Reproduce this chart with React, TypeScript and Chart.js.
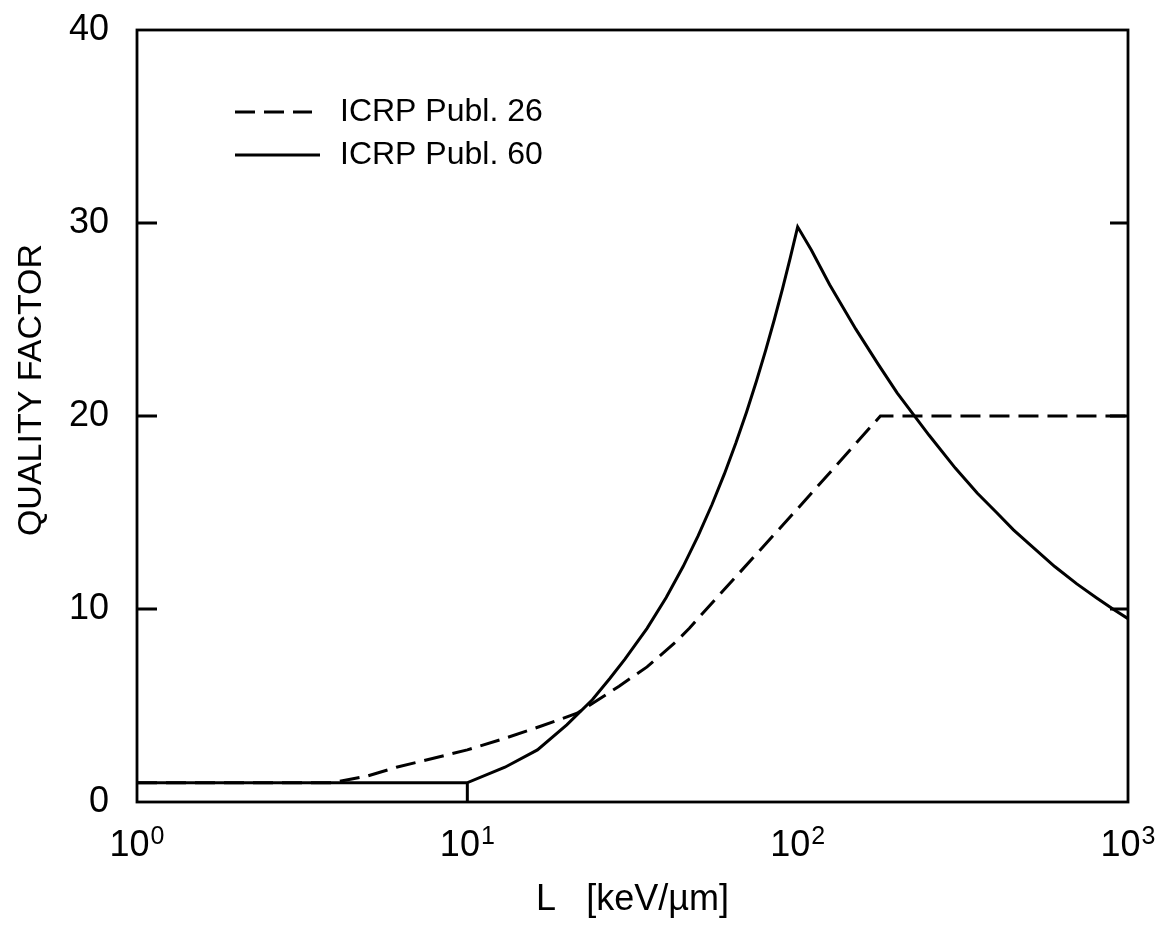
import React, { useEffect, useRef } from "react";
import { Chart, registerables } from "chart.js";

Chart.register(...registerables);

// ICRP Publ. 26 (dashed)
const icrp26L = [1, 3.9, 5, 6.1, 7, 10, 13, 16.5, 21.5, 28.8, 35, 42.8, 47, 53, 100, 178, 1000];
const icrp26Q = [1, 1, 1.35, 1.8, 2.05, 2.7, 3.3, 3.9, 4.6, 6.0, 7.0, 8.3, 9.0, 10, 15.2, 20, 20];

// ICRP Publ. 60 (solid)
const icrp60L = [
  1, 10, 10, 10, 13, 16.3, 20, 23.9, 27, 30, 35, 40, 45, 50, 55, 60, 65, 70, 75, 80, 85, 90, 95, 100,
  110, 125, 150, 175, 200, 250, 300, 350, 400, 450, 500, 600, 700, 800, 900, 1000,
];
const icrp60Q = [
  1, 1, 0, 1, 1.8, 2.7, 4.0, 5.3, 6.4, 7.4, 9.0, 10.6, 12.2, 13.8, 15.4, 17.0, 18.6, 20.2, 21.8, 23.4, 25.0, 26.6, 28.2, 29.8,
  28.6, 26.8, 24.5, 22.7, 21.2, 19.0, 17.3, 16.0, 15.0, 14.1, 13.4, 12.2, 11.3, 10.6, 10.0, 9.5,
];

const seriesNames = ["ICRP Publ. 26", "ICRP Publ. 60"];
const xTickValues = [1, 10, 100, 1000];
const xTickExponents = ["0", "1", "2", "3"];
const yTickValues = [0, 10, 20, 30, 40];
const xTitle = "L   [keV/\u00B5m]";
const yTitle = "QUALITY FACTOR";

const FONT = '"Liberation Sans", Arial, sans-serif';
const DASH = [20, 9];

const framePlugin = {
  id: "frame",
  afterDatasetsDraw(chart: any) {
    const { ctx, chartArea: a, scales } = chart;
    ctx.save();
    ctx.strokeStyle = "#000";
    ctx.fillStyle = "#000";
    ctx.lineWidth = 2.8;
    ctx.setLineDash([]);
    ctx.strokeRect(a.left, a.top, a.right - a.left, a.bottom - a.top);

    // inward tick marks on left and right
    for (const v of yTickValues) {
      if (v === yTickValues[0] || v === yTickValues[yTickValues.length - 1]) continue;
      const y = scales.y.getPixelForValue(v);
      ctx.beginPath();
      ctx.moveTo(a.left, y);
      ctx.lineTo(a.left + 20, y);
      ctx.moveTo(a.right, y);
      ctx.lineTo(a.right - 18, y);
      ctx.stroke();
    }

    // x tick labels with superscripts
    ctx.textAlign = "left";
    ctx.textBaseline = "alphabetic";
    xTickValues.forEach((v, i) => {
      const x = scales.x.getPixelForValue(v);
      ctx.font = `36px ${FONT}`;
      const w1 = ctx.measureText("10").width;
      ctx.font = `25px ${FONT}`;
      const w2 = ctx.measureText(xTickExponents[i]).width;
      const start = x - (w1 + w2 + 1) / 2;
      ctx.font = `36px ${FONT}`;
      ctx.fillText("10", start, a.bottom + 54);
      ctx.font = `25px ${FONT}`;
      ctx.fillText(xTickExponents[i], start + w1 + 1, a.bottom + 42);
    });

    // y axis title (rotated)
    ctx.save();
    ctx.translate(a.left - 105, 390);
    ctx.rotate(-Math.PI / 2);
    ctx.font = `34px ${FONT}`;
    ctx.textAlign = "center";
    ctx.textBaseline = "middle";
    ctx.fillText(yTitle, 0, 0);
    ctx.restore();

    // legend
    const ds = chart.data.datasets;
    const lx = a.left + 98;
    const rows = [a.top + 82, a.top + 125];
    const ends = [a.left + 175, a.left + 183];
    ds.forEach((d: any, i: number) => {
      ctx.lineWidth = 2.8;
      ctx.setLineDash(d.borderDash || []);
      ctx.beginPath();
      ctx.moveTo(lx, rows[i]);
      ctx.lineTo(ends[i], rows[i]);
      ctx.stroke();
      ctx.setLineDash([]);
      ctx.font = `32px ${FONT}`;
      ctx.textAlign = "left";
      ctx.textBaseline = "middle";
      ctx.fillText(d.label, a.left + 203, rows[i]);
    });
    ctx.restore();
  },
};

export default function App() {
  const ref = useRef<HTMLCanvasElement | null>(null);

  useEffect(() => {
    if (!ref.current) return;
    const chart = new Chart(ref.current, {
      type: "line",
      data: {
        datasets: [
          {
            label: seriesNames[0],
            data: icrp26L.map((x, i) => ({ x, y: icrp26Q[i] })),
            borderColor: "#000",
            borderWidth: 3,
            borderDash: DASH,
            pointRadius: 0,
            tension: 0,
            fill: false,
          },
          {
            label: seriesNames[1],
            data: icrp60L.map((x, i) => ({ x, y: icrp60Q[i] })),
            borderColor: "#000",
            borderWidth: 3,
            pointRadius: 0,
            tension: 0,
            fill: false,
          },
        ],
      },
      options: {
        animation: false,
        responsive: false,
        devicePixelRatio: 1,
        layout: { padding: { top: 30, right: 30, left: 0, bottom: 0 } },
        plugins: {
          legend: { display: false },
          tooltip: { enabled: false },
        },
        scales: {
          x: {
            type: "logarithmic",
            min: 1,
            max: 1000,
            grid: { display: false },
            border: { display: false },
            ticks: { display: false },
            title: {
              display: true,
              text: xTitle,
              color: "#000",
              font: { family: FONT, size: 36 },
              padding: { top: 0, bottom: 11 },
            },
            afterFit: (s: any) => {
              s.height = 131;
              s.paddingLeft = 0;
              s.paddingRight = 0;
            },
          },
          y: {
            type: "linear",
            min: 0,
            max: 40,
            grid: { display: false },
            border: { display: false },
            afterBuildTicks: (s: any) => {
              s.ticks = yTickValues.map((v) => ({ value: v }));
            },
            ticks: {
              color: "#000",
              font: { family: FONT, size: 36 },
              padding: 20,
            },
            title: { display: false },
            afterFit: (s: any) => {
              s.width = 137;
              s.paddingTop = 0;
              s.paddingBottom = 0;
            },
          },
        },
      },
      plugins: [framePlugin],
    });
    return () => chart.destroy();
  }, []);

  return (
    <div style={{ position: "fixed", left: 0, top: 0, width: 1158, height: 933, background: "#fff" }}>
      <canvas ref={ref} width={1158} height={933} style={{ width: 1158, height: 933 }} />
    </div>
  );
}
